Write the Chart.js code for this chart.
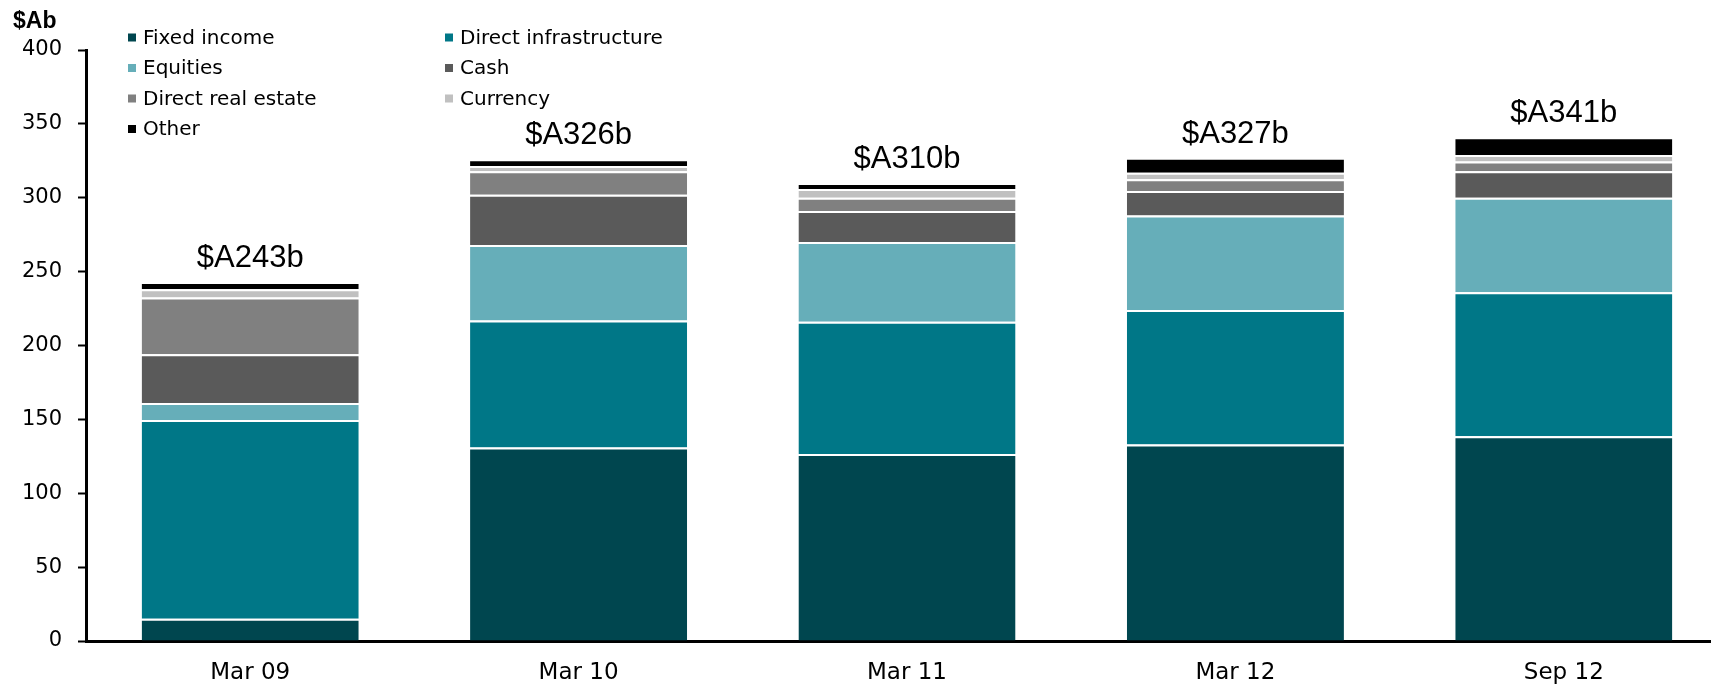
<!DOCTYPE html>
<html>
<head>
<meta charset="utf-8">
<title>Funds under management by asset class</title>
<script src="https://cdn.jsdelivr.net/npm/chart.js@4"></script>
<style>
    html, body { margin: 0; padding: 0; background: #fff; overflow: hidden; }
    #wrap { position: relative; width: 1711px; height: 688px; overflow: hidden; }
    canvas { display: block; }
</style>
</head>
<body>
<div id="wrap">
    <canvas id="assetChart" width="1728" height="688"></canvas>
</div>
<script>
// Holdings by asset class, $A billion
const categories = ['Mar 09', 'Mar 10', 'Mar 11', 'Mar 12', 'Sep 12'];
const fixedIncome = [15, 131, 126.5, 133, 138.5];
const directInfrastructure = [134.5, 86, 89.5, 91, 97.5];
const equities = [11.5, 51, 54, 64, 64];
const cash = [33, 34, 21, 16.5, 18];
const directRealEstate = [38.5, 16, 9, 8, 6.5];
const currency = [5.5, 3.5, 6, 4.5, 4.5];
const other = [5, 4.5, 4, 10, 12];

const yTicks = [0, 50, 100, 150, 200, 250, 300, 350, 400];

const seriesNames = ['Fixed income', 'Direct infrastructure', 'Equities', 'Cash',
    'Direct real estate', 'Currency', 'Other'];
const seriesValues = [fixedIncome, directInfrastructure, equities, cash,
    directRealEstate, currency, other];
const seriesColors = ['#00464f', '#007787', '#66aeb9', '#5a5a5a', '#808080', '#c0c0c0', '#000000'];

Chart.defaults.font.family = '"DejaVu Sans", sans-serif';
Chart.defaults.color = '#000';

// Totals above each stack, unit label and the two-column key
const annotations = {
    id: 'annotations',
    afterDatasetsDraw(chart) {
        const ctx = chart.ctx;
        const topMeta = chart.getDatasetMeta(chart.data.datasets.length - 1);
        ctx.save();
        ctx.fillStyle = '#000';
        ctx.textAlign = 'center';
        ctx.textBaseline = 'alphabetic';
        ctx.font = '31px "Liberation Sans", Arial, sans-serif';
        topMeta.data.forEach((bar, i) => {
            const total = seriesValues.reduce((sum, arr) => sum + arr[i], 0);
            ctx.fillText('$A' + Math.round(total) + 'b', bar.x, bar.y - 15);
        });

        ctx.textAlign = 'left';
        ctx.font = 'bold 23px "Liberation Sans", Arial, sans-serif';
        ctx.fillText('$Ab', 13, 28);

        ctx.font = '20px "DejaVu Sans", sans-serif';
        ctx.textBaseline = 'middle';
        chart.data.datasets.forEach((ds, i) => {
            const x = i % 2 === 0 ? 128 : 445;
            const y = 37.5 + Math.floor(i / 2) * 30.5;
            ctx.fillStyle = ds.backgroundColor;
            ctx.fillRect(x, y - 4, 8, 8);
            ctx.fillStyle = '#000';
            ctx.fillText(ds.label, x + 15, y + 1);
        });
        ctx.restore();
    }
};

const ctx = document.getElementById('assetChart').getContext('2d');
const assetChart = new Chart(ctx, {
    type: 'bar',
    data: {
        labels: categories,
        datasets: seriesNames.map((name, i) => ({
            label: name,
            data: seriesValues[i],
            backgroundColor: seriesColors[i],
            borderColor: '#ffffff',
            borderWidth: { top: 2, bottom: 0, left: 0, right: 0 },
            borderSkipped: false,
            categoryPercentage: 1,
            barPercentage: 0.661
        }))
    },
    options: {
        responsive: false,
        animation: false,
        layout: { padding: { top: 50, left: 0, right: 0, bottom: 0 } },
        plugins: {
            legend: { display: false },
            tooltip: { enabled: false }
        },
        scales: {
            x: {
                stacked: true,
                grid: { display: false, drawTicks: false },
                border: { color: '#000', width: 3 },
                ticks: { font: { size: 23 }, padding: 18, maxRotation: 0 },
                afterFit: scale => { scale.height = 47; }
            },
            y: {
                stacked: true,
                min: 0,
                max: 400,
                afterBuildTicks: scale => { scale.ticks = yTicks.map(v => ({ value: v })); },
                grid: { drawOnChartArea: false, drawTicks: true, tickLength: 8, tickColor: '#000', tickWidth: 2 },
                border: { color: '#000', width: 3 },
                ticks: { font: { size: 21 }, padding: 16 },
                afterFit: scale => { scale.width = 86; }
            }
        }
    },
    plugins: [annotations]
});
</script>
</body>
</html>
